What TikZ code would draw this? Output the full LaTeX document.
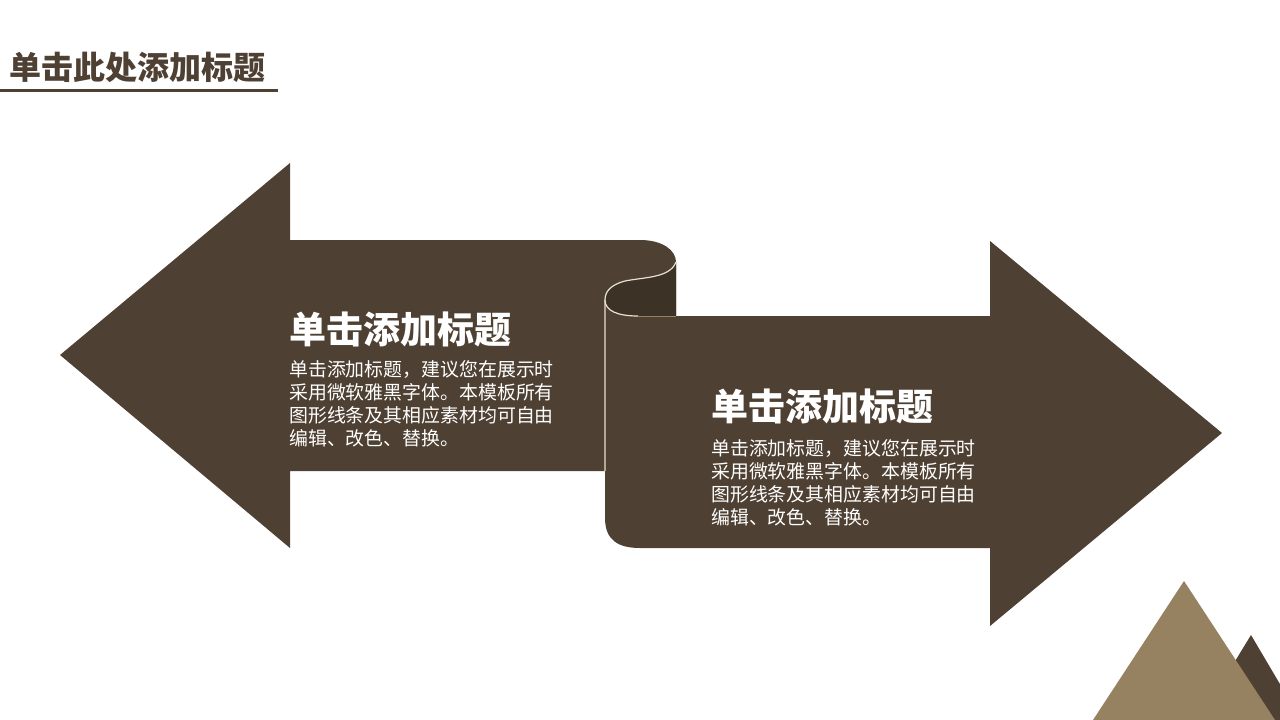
\documentclass[tikz,border=0pt]{standalone}
\usepackage{fontspec}
\newfontfamily\cjk{Noto Sans CJK SC}
\definecolor{brownmain}{HTML}{4E4032}
\definecolor{browndark}{HTML}{3D3226}
\definecolor{brownlight}{HTML}{968260}
\definecolor{foldline}{HTML}{E8E0D0}
\tikzset{
  shapefill/.style={fill=brownmain, draw=none},
  edgeline/.style={draw=foldline, line width=1.2pt},
  headtext/.style={anchor=west, inner sep=0pt, text=white, font=\cjk\bfseries\fontsize{37}{42}\selectfont},
  bodytext/.style={anchor=north west, inner sep=0pt, text=white, align=left, font=\cjk\fontsize{18.9}{23}\selectfont},
}
\begin{document}
\begin{tikzpicture}[x=1pt,y=-1pt]
\useasboundingbox (0,0) rectangle (1280,720);
\fill[white] (0,0) rectangle (1280,720);
% title
\node[anchor=west, inner sep=0pt, text=brownmain, font=\cjk\bfseries\fontsize{32}{38}\selectfont] (title) at (9,67) {单击此处添加标题};
\draw[brownmain, line width=3pt] (0,90) -- (278,90);
% mountains
\fill[brownmain] (1251,635) -- (1310,735) -- (1190,735) -- cycle;
\fill[brownlight] (1184,581) -- (1275,720) -- (1093,720) -- cycle;
% right arrow
\fill[brownmain] (605,300) -- (605,518) .. controls (605,540) and (618,548) .. (640,548) -- (990,548) -- (990,626) -- (1222,433) -- (990,241) -- (990,316) -- (676,316) -- (676,262) -- cycle;
% left arrow
\fill[brownmain] (60,355) -- (290,163) -- (290,240) -- (640,240) .. controls (662,240) and (676,250) .. (676,262)
  .. controls (670,278) and (645,277) .. (625,281) .. controls (610,285) and (605,292) .. (605,300)
  -- (605,471) -- (290,471) -- (290,548) -- cycle;
% fold (darker cylinder)
\fill[browndark] (676,262) .. controls (670,278) and (645,277) .. (625,281) .. controls (610,285) and (605,292) .. (605,300)
  .. controls (605,311) and (618,316) .. (638,316) -- (676,316) -- cycle;
\draw[edgeline] (676,262) .. controls (670,278) and (645,277) .. (625,281) .. controls (610,285) and (605,292) .. (605,300) -- (605,471);
\draw[edgeline] (605,300) .. controls (605,311) and (618,316) .. (638,316);
\draw[draw=brownlight, line width=0.8pt] (638,316) -- (676,316);
% texts
\node[headtext] (h1) at (289,329) {单击添加标题};
\node[bodytext] (b1) at (289,360) {单击添加标题，建议您在展示时\\采用微软雅黑字体。本模板所有\\图形线条及其相应素材均可自由\\编辑、改色、替换。};
\node[headtext] (h2) at (711,406) {单击添加标题};
\node[bodytext] (b2) at (711,439) {单击添加标题，建议您在展示时\\采用微软雅黑字体。本模板所有\\图形线条及其相应素材均可自由\\编辑、改色、替换。};
\end{tikzpicture}
\end{document}
